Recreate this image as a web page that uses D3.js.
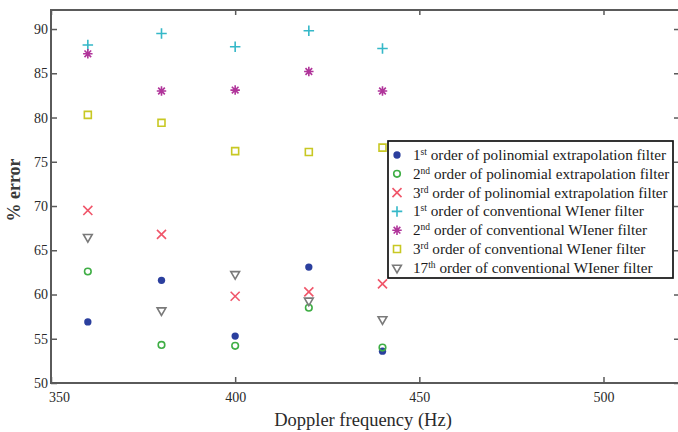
<!DOCTYPE html>
<html>
<head>
<meta charset="utf-8">
<script src="https://cdn.jsdelivr.net/npm/d3@7"></script>
<style>
  html, body { margin: 0; padding: 0; background: #fff; }
  svg { display: block; }
  text { font-family: "Liberation Serif", "Times New Roman", serif; }
</style>
</head>
<body>
<svg id="chart" width="678" height="432"></svg>
<script>
// Doppler frequencies (Hz) at which each filter was evaluated
const frequencies = [360, 380, 400, 420, 440];

// % error for each filter
const poly1 = [56.9, 61.6, 55.3, 63.1, 53.6];
const poly2 = [62.6, 54.3, 54.2, 58.5, 54.0];
const poly3 = [69.5, 66.8, 59.8, 60.3, 61.2];
const wiener1 = [88.2, 89.5, 88.0, 89.8, 87.8];
const wiener2 = [87.2, 83.0, 83.1, 85.2, 83.0];
const wiener3 = [80.3, 79.4, 76.2, 76.1, 76.6];
const wiener17 = [66.5, 58.2, 62.3, 59.3, 57.2];

const xTicks = [350, 400, 450, 500];
const yTicks = [50, 55, 60, 65, 70, 75, 80, 85, 90];

// Legend labels: [number, ordinal suffix, remaining text]
const seriesLabels = [
  ["1", "st", " order of polinomial extrapolation filter"],
  ["2", "nd", " order of polinomial extrapolation filter"],
  ["3", "rd", " order of polinomial extrapolation filter"],
  ["1", "st", " order of conventional WIener filter"],
  ["2", "nd", " order of conventional WIener filter"],
  ["3", "rd", " order of conventional WIener filter"],
  ["17", "th", " order of conventional WIener filter"]
];

// Eight-armed asterisk symbol type for d3.symbol
const symbolStar8 = {
  draw(context, size) {
    const r = Math.sqrt(size) * 0.6;
    for (let k = 0; k < 4; k++) {
      const a = k * Math.PI / 4;
      const dx = r * Math.cos(a), dy = r * Math.sin(a);
      context.moveTo(-dx, -dy);
      context.lineTo(dx, dy);
    }
  }
};

const series = [
  { values: poly1, symbol: d3.symbolCircle, size: 42, fill: "#2b3f9e", stroke: "none", rot: 0 },
  { values: poly2, symbol: d3.symbolCircle, size: 34, fill: "none", stroke: "#3fae45", rot: 0 },
  { values: poly3, symbol: d3.symbolTimes, size: 55, fill: "none", stroke: "#f0566a", rot: 0 },
  { values: wiener1, symbol: d3.symbolPlus, size: 38, fill: "none", stroke: "#35b8c8", rot: 0 },
  { values: wiener2, symbol: symbolStar8, size: 62, fill: "none", stroke: "#b0349a", rot: 0 },
  { values: wiener3, symbol: d3.symbolSquare2, size: 62, fill: "none", stroke: "#c8c823", rot: 0 },
  { values: wiener17, symbol: d3.symbolTriangle2, size: 55, fill: "none", stroke: "#7a7a7a", rot: 180 }
];

const svg = d3.select("#chart");
const plot = { left: 51, right: 679, top: 10, bottom: 383 };

const x = d3.scaleLinear().domain([350, 520.5]).range([plot.left, plot.right]);
const y = d3.scaleLinear().domain([50, 92.15]).range([plot.bottom, plot.top]);

const axisColor = "#5a5a5a";

// Frame
svg.append("rect")
  .attr("x", plot.left).attr("y", plot.top)
  .attr("width", plot.right - plot.left).attr("height", plot.bottom - plot.top)
  .attr("fill", "none").attr("stroke", axisColor).attr("stroke-width", 2);

// Axes with inward ticks
function styleAxis(g) {
  g.select(".domain").remove();
  g.selectAll(".tick line").attr("stroke", axisColor).attr("stroke-width", 1.5);
  g.selectAll(".tick text")
    .attr("fill", "#2a2a2a")
    .style("font-family", '"Liberation Serif", "Times New Roman", serif')
    .style("font-size", "14px");
}

const xAxis = svg.append("g")
  .attr("transform", `translate(0,${plot.bottom})`)
  .call(d3.axisBottom(x).tickValues(xTicks).tickSize(-6).tickPadding(9).tickFormat(d3.format("d")))
  .call(styleAxis);
xAxis.selectAll(".tick").filter(d => d === 350).select("text").attr("dx", 8);

svg.append("g")
  .attr("transform", `translate(${plot.left},0)`)
  .call(d3.axisLeft(y).tickValues(yTicks).tickSize(-6).tickPadding(3).tickFormat(d3.format("d")))
  .call(styleAxis);

// Mirrored ticks on top and right edges
svg.append("g")
  .attr("transform", `translate(0,${plot.top})`)
  .call(d3.axisTop(x).tickValues(xTicks).tickSize(-5).tickFormat(""))
  .call(styleAxis);
svg.append("g")
  .attr("transform", `translate(${plot.right},0)`)
  .call(d3.axisRight(y).tickValues(yTicks).tickSize(-5).tickFormat(""))
  .call(styleAxis);

// Axis titles
svg.append("text")
  .attr("x", 363).attr("y", 426)
  .attr("text-anchor", "middle")
  .attr("fill", "#2a2a2a")
  .style("font-size", "18.5px")
  .text("Doppler frequency (Hz)");

svg.append("text")
  .attr("transform", "translate(20,190) rotate(-90)")
  .attr("text-anchor", "middle")
  .attr("fill", "#3a3a3a")
  .style("font-size", "18px")
  .style("font-weight", "bold")
  .text("% error");

// Data markers
const symbolGen = d3.symbol();
series.forEach(s => {
  svg.append("g")
    .selectAll("path")
    .data(frequencies.map((f, i) => [f, s.values[i]]))
    .join("path")
    .attr("transform", d => `translate(${x(d[0])},${y(d[1])}) rotate(${s.rot})`)
    .attr("d", symbolGen.type(s.symbol).size(s.size)())
    .attr("fill", s.fill)
    .attr("stroke", s.stroke)
    .attr("stroke-width", 1.6);
});

// Legend
const legend = svg.append("g").attr("transform", "translate(388,141)");
const rowH = 18.8;
legend.append("rect")
  .attr("x", 0).attr("y", 0)
  .attr("width", 285).attr("height", 137)
  .attr("fill", "#fff").attr("stroke", "#111").attr("stroke-width", 1.7);

series.forEach((s, i) => {
  const cy = 14 + i * rowH;
  legend.append("path")
    .attr("transform", `translate(9,${cy}) rotate(${s.rot})`)
    .attr("d", symbolGen.type(s.symbol).size(s.size)())
    .attr("fill", s.fill)
    .attr("stroke", s.stroke)
    .attr("stroke-width", 1.6);
  const t = legend.append("text")
    .attr("x", 25).attr("y", cy + 5)
    .attr("fill", "#1a1a1a")
    .style("font-size", "15.2px");
  const lab = seriesLabels[i];
  t.append("tspan").text(lab[0]);
  t.append("tspan").attr("dy", -5).style("font-size", "9.5px").text(lab[1]);
  t.append("tspan").attr("dy", 5).text(lab[2]);
});
</script>
</body>
</html>
